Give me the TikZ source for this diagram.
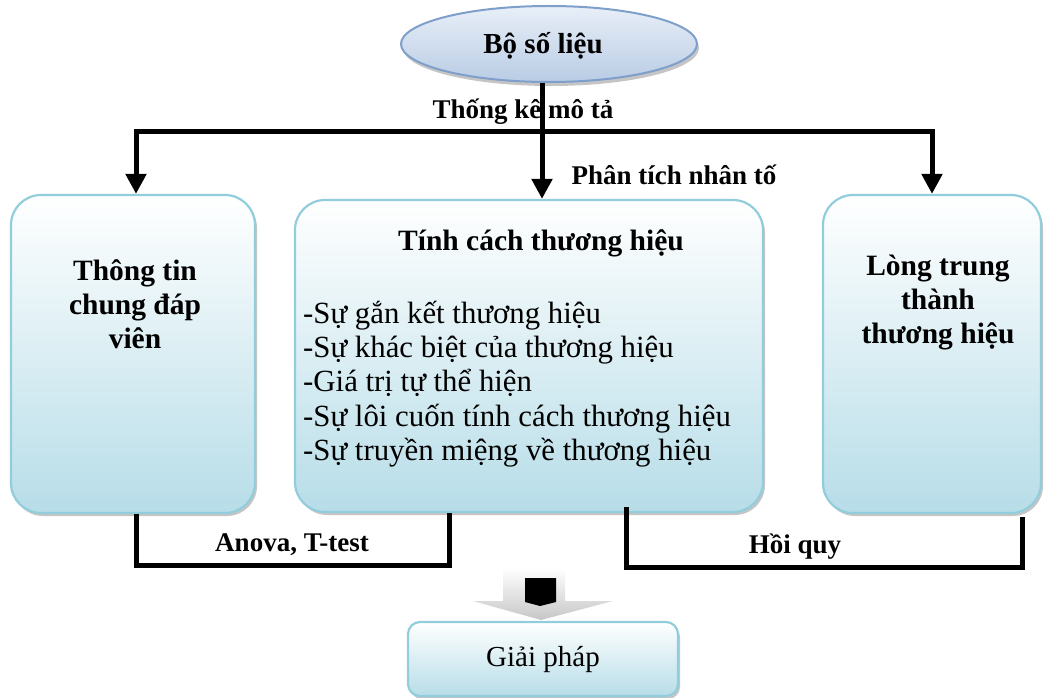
\documentclass[tikz,border=0pt]{standalone}
\usepackage{fontspec}
\setmainfont{Liberation Serif}
\usetikzlibrary{arrows.meta,shadows,shapes.geometric}
\definecolor{boxborder}{HTML}{92CDDC}
\definecolor{boxbot}{HTML}{B7DDE8}
\definecolor{ellborder}{HTML}{7F9FCB}
\definecolor{elltop}{HTML}{E8EFF8}
\definecolor{ellbot}{HTML}{B9CCE4}
\tikzset{
  rbox/.style={draw=boxborder, line width=2.2pt, rounded corners=30pt, top color=white, bottom color=boxbot,
    drop shadow={shadow xshift=2pt, shadow yshift=-3pt, fill=black!45, opacity=.5}, inner sep=0pt},
  conn/.style={line width=5pt, black},
  carrow/.style={conn, -{Triangle[width=20pt,length=20pt]}},
  btitle/.style={font=\fontsize{29.5}{34}\selectfont\bfseries, align=center},
  lbl/.style={font=\fontsize{27}{30}\selectfont\bfseries, inner sep=1pt},
}
\begin{document}
\begin{tikzpicture}[x=1pt,y=-1pt]
\useasboundingbox (0,0) rectangle (1044,698);
% top ellipse
\node[ellipse, draw=ellborder, line width=2pt, top color=elltop, bottom color=ellbot, minimum width=296pt, minimum height=76pt,
  drop shadow={shadow xshift=2pt, shadow yshift=-4pt, fill=black!45, opacity=.5}] (ell) at (549,44) {};
\node[font=\fontsize{29}{32}\selectfont\bfseries] (elltxt) at (543,46) {Bộ số liệu};
% boxes
\node[rbox, minimum width=244pt, minimum height=318pt] (lb) at (133,354) {};
\node[rbox, minimum width=468pt, minimum height=312pt] (cb) at (529,356) {};
\node[rbox, minimum width=218pt, minimum height=318pt] (rb) at (932,354) {};
\node[rbox, rounded corners=12pt, minimum width=270pt, minimum height=74pt] (gp) at (543,659) {};
% box texts
\node[btitle] (lbt) at (135,304) {Thông tin\\chung đáp\\viên};
\node[btitle] (rbt) at (938,303) {Lòng trung\\thành\\thương hiệu};
\node[btitle] (cbt) at (541,243) {Tính cách thương hiệu};
\node[font=\fontsize{30.8}{34.2}\selectfont, align=left, anchor=north west, inner sep=0pt] (cbl) at (303,301)
 {-Sự gắn kết thương hiệu\\-Sự khác biệt của thương hiệu\\-Giá trị tự thể hiện\\-Sự lôi cuốn tính cách thương hiệu\\-Sự truyền miệng về thương hiệu};
\node[font=\fontsize{29}{32}\selectfont] (gpt) at (543,659) {Giải pháp};
% labels
\node[lbl] (tk) at (523,112) {Thống kê mô tả};
\node[lbl] (pt) at (674,175) {Phân tích nhân tố};
\node[lbl] (an) at (292,545) {Anova, T-test};
\node[lbl] (hq) at (795,547) {Hồi quy};
% top connectors
\coordinate (split) at (542,132);
\draw[conn] (ell.south -| split) -- (split);
\draw[carrow] (split) -| ([xshift=3pt]lb.north);
\draw[carrow] (split) -| (rb.north);
\draw[carrow] (split) -- (split |- cb.north);
% bottom connectors
\draw[conn] ([xshift=3pt]lb.south) |- (449,565) -- ([xshift=-80pt]cb.south);
\draw[conn] ([xshift=97pt,yshift=6pt]cb.south) |- (1022,567) -- ([xshift=90pt,yshift=-3pt]rb.south);
% block arrow
\shade[top color=white, bottom color=black!22, shading angle=0]
  (503,568) -- (565,568) -- (565,601) -- (613,601) -- (541,620) -- (473,601) -- (503,601) -- cycle;
\fill[black] (525,578) -- (556,578) -- (556,602) -- (540,606) -- (525,602) -- cycle;
\end{tikzpicture}
\end{document}
